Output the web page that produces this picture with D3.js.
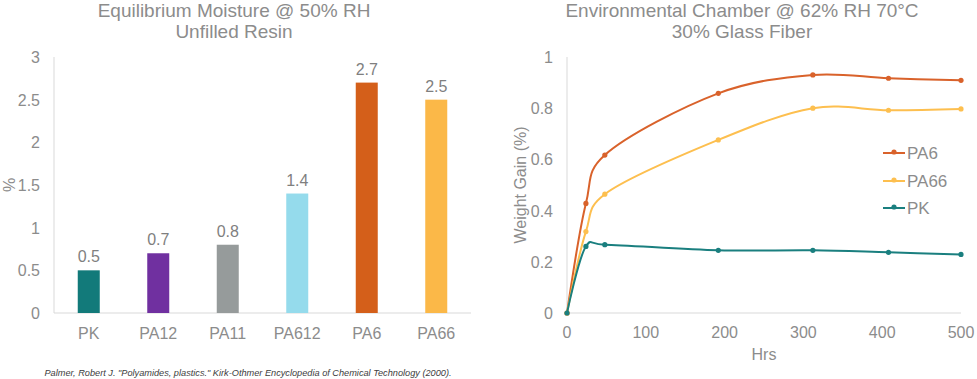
<!DOCTYPE html>
<html><head><meta charset="utf-8">
<script src="https://cdn.jsdelivr.net/npm/d3@7"></script>
<style>body{margin:0;background:#fff}svg{display:block}text{font-family:"Liberation Sans",Arial,sans-serif}</style>
</head><body><svg id="c" width="977" height="379"></svg>
<script>
const categories = ["PK","PA12","PA11","PA612","PA6","PA66"];
const moisture = [0.5,0.7,0.8,1.4,2.7,2.5];
const barColors = ["#127a7a","#7030a0","#969b9b","#95dbec","#d45f1a","#fbb848"];
const leftTicks = [0,0.5,1,1.5,2,2.5,3];

const hours = [0,24,48,192,312,408,500];
const seriesNames = ["PA6","PA66","PK"];
const pa6 = [0,0.428,0.617,0.858,0.93,0.917,0.909];
const pa66 = [0,0.318,0.464,0.676,0.80,0.792,0.797];
const pk = [0,0.26,0.267,0.245,0.245,0.237,0.229];
const lineColors = ["#d9622b","#fdbf4f","#1a7f7f"];
const rightYTicks = [0,0.2,0.4,0.6,0.8,1];
const rightXTicks = [0,100,200,300,400,500];

const svg = d3.select("#c");
const grey = "#8c8c8c", axisC = "#d9d9d9";

// ---------- Left chart ----------
const L = {x0:54, x1:471, y0:313, y1:57};
const xb = d3.scaleBand().domain(categories).range([L.x0,L.x1]);
const yl = d3.scaleLinear().domain([0,3]).range([L.y0,L.y1]);
const gl = svg.append("g");
gl.append("text").attr("x",234).attr("y",17).attr("text-anchor","middle").attr("fill",grey).attr("font-size",19).text("Equilibrium Moisture @ 50% RH");
gl.append("text").attr("x",234).attr("y",38).attr("text-anchor","middle").attr("fill",grey).attr("font-size",19).text("Unfilled Resin");
gl.append("line").attr("x1",L.x0).attr("x2",L.x0).attr("y1",L.y1).attr("y2",L.y0).attr("stroke",axisC);
gl.append("line").attr("x1",L.x0).attr("x2",L.x1).attr("y1",L.y0).attr("y2",L.y0).attr("stroke",axisC);
gl.selectAll(".yt").data(leftTicks).join("text").attr("x",40).attr("y",d=>yl(d)+6).attr("text-anchor","end").attr("fill",grey).attr("font-size",16).text(d=>d);
const bw = 22;
gl.selectAll(".bar").data(categories).join("rect")
  .attr("x",d=>xb(d)+xb.bandwidth()/2-bw/2).attr("width",bw)
  .attr("y",(d,i)=>yl(moisture[i])).attr("height",(d,i)=>L.y0-yl(moisture[i]))
  .attr("fill",(d,i)=>barColors[i]);
gl.selectAll(".lbl").data(categories).join("text")
  .attr("x",d=>xb(d)+xb.bandwidth()/2).attr("y",(d,i)=>yl(moisture[i])-8)
  .attr("text-anchor","middle").attr("fill","#7f7f7f").attr("font-size",16).text((d,i)=>moisture[i].toFixed(1));
gl.selectAll(".xt").data(categories).join("text")
  .attr("x",d=>xb(d)+xb.bandwidth()/2).attr("y",339)
  .attr("text-anchor","middle").attr("fill",grey).attr("font-size",16).text(d=>d);
gl.append("text").attr("transform","translate(15,185) rotate(-90)").attr("text-anchor","middle").attr("fill",grey).attr("font-size",16).text("%");
gl.append("text").attr("x",248).attr("y",376).attr("text-anchor","middle").attr("fill","#404040").attr("font-size",9.2).attr("font-style","italic")
  .text('Palmer, Robert J. "Polyamides, plastics." Kirk-Othmer Encyclopedia of Chemical Technology (2000).');

// ---------- Right chart ----------
const R = {x0:567, x1:961, y0:313, y1:57};
const xr = d3.scaleLinear().domain([0,500]).range([R.x0,R.x1]);
const yr = d3.scaleLinear().domain([0,1]).range([R.y0,R.y1]);
const gr = svg.append("g");
gr.append("text").attr("x",742).attr("y",17).attr("text-anchor","middle").attr("fill",grey).attr("font-size",19).text("Environmental Chamber @ 62% RH 70°C");
gr.append("text").attr("x",742).attr("y",38).attr("text-anchor","middle").attr("fill",grey).attr("font-size",19).text("30% Glass Fiber");
gr.append("line").attr("x1",R.x0).attr("x2",R.x0).attr("y1",R.y1).attr("y2",R.y0).attr("stroke",axisC);
gr.append("line").attr("x1",R.x0).attr("x2",R.x1).attr("y1",R.y0).attr("y2",R.y0).attr("stroke",axisC);
gr.selectAll(".yt").data(rightYTicks).join("text").attr("x",553).attr("y",d=>yr(d)+6).attr("text-anchor","end").attr("fill",grey).attr("font-size",16).text(d=>d);
gr.selectAll(".xt").data(rightXTicks).join("text").attr("x",d=>xr(d)).attr("y",338).attr("text-anchor","middle").attr("fill",grey).attr("font-size",16).text(d=>d);
gr.append("text").attr("x",764).attr("y",360).attr("text-anchor","middle").attr("fill",grey).attr("font-size",16).text("Hrs");
gr.append("text").attr("transform","translate(526,185) rotate(-90)").attr("text-anchor","middle").attr("fill",grey).attr("font-size",16).text("Weight Gain (%)");

const series = [pa6,pa66,pk];
const line = d3.line().x((d,i)=>xr(hours[i])).y(d=>yr(d)).curve(d3.curveCatmullRom.alpha(0.15));
series.forEach((s,k)=>{
  gr.append("path").attr("d",line(s)).attr("fill","none").attr("stroke",lineColors[k]).attr("stroke-width",2);
  gr.selectAll(".pt"+k).data(s).join("circle").attr("cx",(d,i)=>xr(hours[i])).attr("cy",d=>yr(d)).attr("r",2.6).attr("fill",lineColors[k]);
});
const legY = [153,181,208];
seriesNames.forEach((n,k)=>{
  gr.append("line").attr("x1",883).attr("x2",905).attr("y1",legY[k]).attr("y2",legY[k]).attr("stroke",lineColors[k]).attr("stroke-width",2);
  gr.append("circle").attr("cx",894).attr("cy",legY[k]-1).attr("r",2.6).attr("fill",lineColors[k]);
  gr.append("text").attr("x",907).attr("y",legY[k]+6).attr("fill",grey).attr("font-size",17).text(n);
});
</script></body></html>
